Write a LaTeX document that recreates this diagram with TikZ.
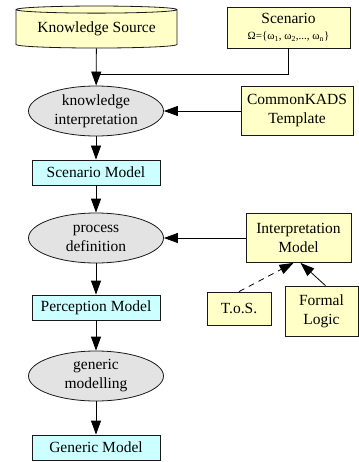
\documentclass[tikz,border=0pt]{standalone}
\usepackage{fontspec}
\setmainfont{Liberation Serif}
\usetikzlibrary{arrows.meta}
\usetikzlibrary{shapes.geometric}

\definecolor{srcyellow}{HTML}{FFFFC8}
\definecolor{modelcyan}{HTML}{CCFFFF}
\definecolor{procgray}{HTML}{E3E3E3}

\begin{document}
\begin{tikzpicture} [x=1pt, y=-1pt, line width=0.8pt,
  every node/.style={font=\fontsize{15.5}{19}\selectfont, align=center, inner sep=0, draw=black!90},
  input/.style={rectangle, fill=srcyellow},
  model/.style={rectangle, fill=modelcyan, minimum width=128, minimum height=25},
  process/.style={ellipse, fill=procgray, minimum width=135, minimum height=50},
  flow/.style={draw=black, -{Triangle[length=14pt, width=10pt]}}]
\useasboundingbox (0,0) rectangle (358,462);
% main chain on the left
\node[input, cylinder, shape border rotate=90, aspect=0.06, minimum width=161, minimum height=42] (ks) at (96.5,29) {Knowledge Source};
\node[process] (ki) at (96,111) {knowledge\\interpretation};
\node[model] (sm) at (96,172.5) {Scenario Model};
\node[process] (pd) at (96,238) {process\\definition};
\node[model] (pm) at (96,307.5) {Perception Model};
\node[process] (gm) at (96,376) {generic\\modelling};
\node[model] (gnm) at (96,447.5) {Generic Model};
% inputs on the right
\node[input, minimum width=123, minimum height=41] (sc) at (288.5,27.5) {Scenario\\[-3pt]{\fontsize{11}{13}\selectfont Ω=\{ω\textsubscript{1}, ω\textsubscript{2},..., ω\textsubscript{n}\}}};
\node[input, minimum width=112, minimum height=49] (ck) at (297,111) {CommonKADS\\Template};
\node[input, minimum width=105, minimum height=49] (im) at (298.5,238) {Interpretation\\Model};
\node[input, minimum width=64, minimum height=33] (tos) at (239,308.5) {T.o.S.};
\node[input, minimum width=73, minimum height=50] (fl) at (321.5,311) {Formal\\Logic};
\coordinate (j) at (96,74);
\draw (sc) |- (j);
\foreach \a/\b in {ks/ki, ki/sm, sm/pd, pd/pm, pm/gm, gm/gnm, ck/ki, im/pd}
  \draw[flow] (\a) -- (\b);
\draw[flow, dash pattern=on 6pt off 5pt] (tos.north) -- ([xshift=-5]im.south);
\draw[flow] ([xshift=4]fl.north) -- ([xshift=2]im.south);
\end{tikzpicture}
\end{document}
